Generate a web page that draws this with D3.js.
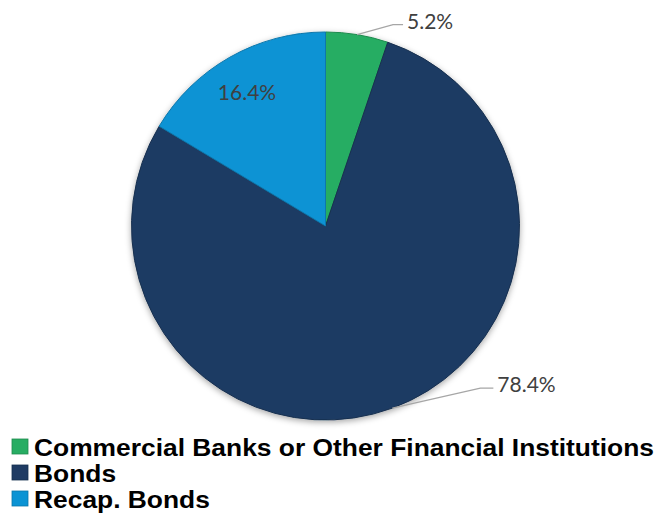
<!DOCTYPE html>
<html>
<head>
<meta charset="utf-8">
<script src="https://cdn.jsdelivr.net/npm/d3@7"></script>
<style>
  html, body { margin: 0; padding: 0; background: #ffffff; }
  svg { display: block; }
</style>
</head>
<body>
<svg id="chart" width="660" height="514"></svg>
<script>
// Funding sources, share of total (%)
const categories = ["Commercial Banks or Other Financial Institutions", "Bonds", "Recap. Bonds"];
const values = [5.2, 78.4, 16.4];
const labels = ["5.2%", "78.4%", "16.4%"];
const colors = ["#27ad63", "#1f3b63", "#0b93d4"];
const edgeColors = ["#1e8a4e", "#16304f", "#0a77ab"];

const svg = d3.select("#chart");
const cx = 325.5, cy = 226, radius = 194;

const defs = svg.append("defs");
const shadow = defs.append("filter").attr("id", "pieShadow")
  .attr("x", "-20%").attr("y", "-20%").attr("width", "140%").attr("height", "140%");
shadow.append("feDropShadow")
  .attr("dx", 0).attr("dy", 2).attr("stdDeviation", 3)
  .attr("flood-color", "#000").attr("flood-opacity", 0.35);

const pie = d3.pie().sort(null).value(d => d)(values);
const arc = d3.arc().innerRadius(0).outerRadius(radius);

const g = svg.append("g").attr("transform", `translate(${cx},${cy})`);

g.append("g").attr("filter", "url(#pieShadow)")
  .selectAll("path").data(pie).join("path")
  .attr("d", arc)
  .attr("fill", (d, i) => colors[i])
  .attr("stroke", (d, i) => edgeColors[i])
  .attr("stroke-width", 1);

const labelFont = "Lato, 'Open Sans', sans-serif";
const labelSize = 21;

// Outside labels with elbowed leader lines
const outside = [
  { i: 0, elbow: [36, -10], run: 10 },
  { i: 1, elbow: [88, -20], run: 13 }
];
outside.forEach(o => {
  const d = pie[o.i];
  const mid = (d.startAngle + d.endAngle) / 2;
  const p0 = [Math.sin(mid) * radius, -Math.cos(mid) * radius];
  const p1 = [p0[0] + o.elbow[0], p0[1] + o.elbow[1]];
  const p2 = [p1[0] + o.run, p1[1]];
  g.append("polyline")
    .attr("points", [p0, p1, p2].map(p => p.join(",")).join(" "))
    .attr("fill", "none").attr("stroke", "#a6a6a6").attr("stroke-width", 1.3);
  g.append("text")
    .attr("x", p2[0] + 4).attr("y", p2[1])
    .attr("dy", "0.2em")
    .attr("font-family", labelFont).attr("font-size", labelSize)
    .attr("fill", "#404040")
    .text(labels[o.i]);
});

// Inside label for the recap slice
{
  const d = pie[2];
  const mid = (d.startAngle + d.endAngle) / 2;
  const r = radius * 0.79;
  g.append("text")
    .attr("x", Math.sin(mid) * r - 3).attr("y", -Math.cos(mid) * r)
    .attr("dy", "0.35em").attr("text-anchor", "middle")
    .attr("font-family", labelFont).attr("font-size", labelSize)
    .attr("fill", "#404040")
    .text(labels[2]);
}

// Legend: bold, slightly widened type
const legend = svg.append("g").attr("transform", "translate(12,0)");
const rowY = d3.scalePoint().domain(categories).range([456, 508]);
const legendTexts = [];
categories.forEach((c, i) => {
  const y = rowY(c);
  legend.append("rect")
    .attr("x", 0).attr("y", y - 17).attr("width", 16).attr("height", 15)
    .attr("fill", colors[i]).attr("stroke", edgeColors[i]).attr("stroke-width", 0.8);
  legendTexts.push(legend.append("text")
    .attr("x", 22).attr("y", y)
    .attr("font-family", "'Liberation Sans', Arial, sans-serif")
    .attr("font-weight", "bold").attr("font-size", 23)
    .attr("fill", "#000")
    .text(c));
});
const widen = 620 / legendTexts[0].node().getComputedTextLength();
legendTexts.forEach(t => {
  t.attr("textLength", t.node().getComputedTextLength() * widen)
   .attr("lengthAdjust", "spacingAndGlyphs");
});
</script>
</body>
</html>
